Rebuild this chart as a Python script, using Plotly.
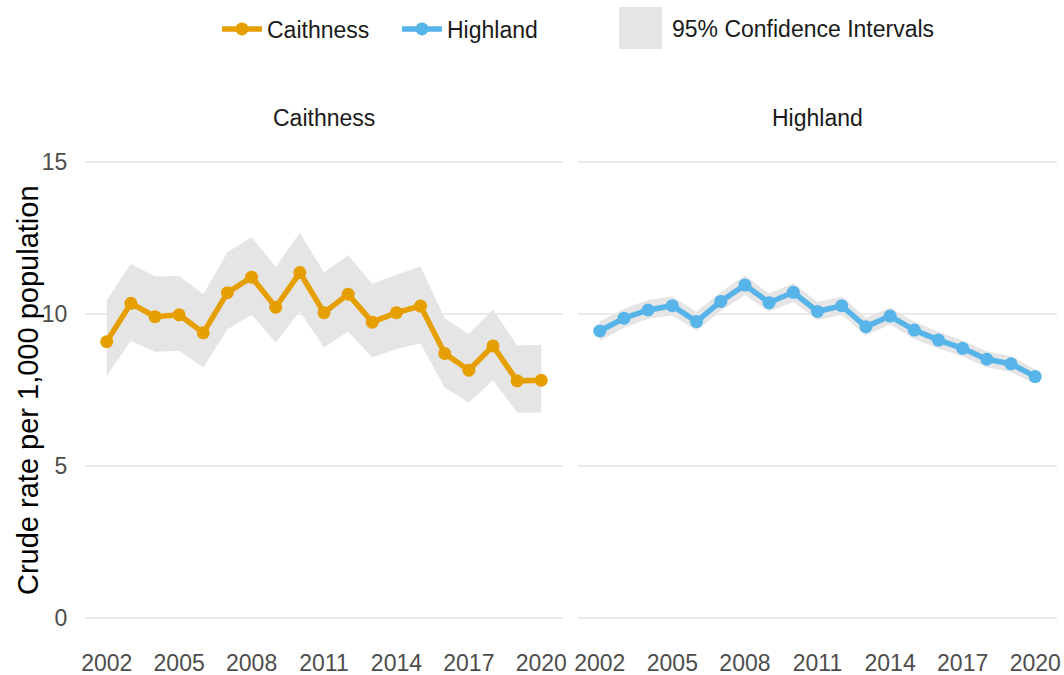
import plotly.graph_objects as go

years = list(range(2002, 2021))

caithness_rate = [9.09, 10.35, 9.91, 9.97, 9.38, 10.70, 11.21, 10.22, 11.36, 10.04,
                  10.65, 9.73, 10.04, 10.26, 8.70, 8.15, 8.95, 7.80, 7.82]
caithness_upper = [10.45, 11.65, 11.23, 11.25, 10.65, 12.03, 12.53, 11.54, 12.68, 11.36,
                   11.93, 10.99, 11.29, 11.56, 9.86, 9.34, 10.15, 8.96, 8.98]
caithness_lower = [7.96, 9.12, 8.76, 8.79, 8.24, 9.49, 9.97, 9.07, 10.08, 8.90,
                   9.42, 8.57, 8.85, 9.03, 7.58, 7.09, 7.82, 6.76, 6.76]

highland_rate = [9.44, 9.86, 10.13, 10.27, 9.75, 10.41, 10.95, 10.37, 10.71, 10.08,
                 10.27, 9.58, 9.93, 9.47, 9.14, 8.87, 8.51, 8.36, 7.94]
highland_upper = [9.75, 10.17, 10.46, 10.57, 10.07, 10.72, 11.26, 10.67, 11.01, 10.39,
                  10.57, 9.87, 10.21, 9.75, 9.41, 9.13, 8.77, 8.61, 8.17]
highland_lower = [9.11, 9.55, 9.84, 9.95, 9.45, 10.10, 10.62, 10.07, 10.39, 9.79,
                  9.97, 9.29, 9.65, 9.18, 8.86, 8.60, 8.25, 8.09, 7.70]

x_ticks = [2002, 2005, 2008, 2011, 2014, 2017, 2020]
y_ticks = [0, 5, 10, 15]
panel_names = ["Caithness", "Highland"]
ci_label = "95% Confidence Intervals"

ORANGE = "#E69F00"
BLUE = "#56B4E9"
RIBBON = "#E5E5E5"
FONT = "Liberation Sans, Arial, sans-serif"

fig = go.Figure()

series = [
    ("Caithness", caithness_rate, caithness_upper, caithness_lower, ORANGE, "x", "y"),
    ("Highland", highland_rate, highland_upper, highland_lower, BLUE, "x2", "y2"),
]

for i, (name, rate, up, lo, col, xa, ya) in enumerate(series):
    fig.add_trace(go.Scatter(
        x=years + years[::-1], y=up + lo[::-1],
        fill="toself", fillcolor=RIBBON, mode="lines",
        line=dict(width=0, color=RIBBON),
        name=ci_label, showlegend=False, hoverinfo="skip",
        xaxis=xa, yaxis=ya,
    ))

for name, rate, up, lo, col, xa, ya in series:
    fig.add_trace(go.Scatter(
        x=years, y=rate, mode="lines+markers", name=name,
        line=dict(color=col, width=5.5),
        marker=dict(color=col, size=13),
        xaxis=xa, yaxis=ya,
    ))

W, H = 1064, 675
ml, mr, mt, mb = 85, 7, 139, 34
pw = W - ml - mr
ph = H - mt - mb

def px_x(p):
    return (p - ml) / pw

def px_y(p):
    return (H - mb - p) / ph

tickfont = dict(family=FONT, size=23, color="#4D4D4D")
common_x = dict(range=[2001.1, 2020.9], tickvals=x_ticks, showgrid=False,
                zeroline=False, showline=False, ticks="outside", ticklen=1,
                tickcolor="rgba(0,0,0,0)", tickfont=tickfont)
common_y = dict(range=[-0.75, 15.75], tickvals=y_ticks, showgrid=True,
                gridcolor="#EBEBEB", gridwidth=1.5, zeroline=False, showline=False,
                ticks="outside", ticklen=12, tickcolor="rgba(0,0,0,0)", tickfont=tickfont)

fig.update_layout(
    width=W, height=H,
    margin=dict(l=ml, r=mr, t=mt, b=mb, autoexpand=False),
    paper_bgcolor="white", plot_bgcolor="white",
    font=dict(family=FONT, color="#1A1A1A"),
    xaxis=dict(domain=[0, px_x(563)], anchor="y", **common_x),
    xaxis2=dict(domain=[px_x(578), 1], anchor="y2", **common_x),
    yaxis=dict(domain=[0, 1], anchor="x", **common_y),
    yaxis2=dict(domain=[0, 1], anchor="x2", showticklabels=False,
                **{k: v for k, v in common_y.items() if k != "tickfont"}),
    legend=dict(orientation="h", xref="container", yref="container",
                x=217 / W, xanchor="left", y=1 - 29 / H, yanchor="middle",
                font=dict(family=FONT, size=23, color="#1A1A1A"),
                itemwidth=40, entrywidth=125, entrywidthmode="pixels",
                bgcolor="rgba(0,0,0,0)"),
    showlegend=True,
)

# legend key for the confidence-interval ribbon
fig.add_shape(type="rect", xref="paper", yref="paper",
              x0=px_x(619), x1=px_x(662), y0=px_y(49), y1=px_y(7),
              fillcolor=RIBBON, line=dict(width=0), layer="above")

annotations = [
    dict(text="Crude rate per 1,000 population", textangle=-90,
         x=px_x(28), y=0.5, xref="paper", yref="paper",
         xanchor="center", yanchor="middle", showarrow=False,
         font=dict(family=FONT, size=29, color="#000000")),
    dict(text=ci_label, x=px_x(670), y=px_y(29), xref="paper", yref="paper",
         xanchor="left", yanchor="middle", showarrow=False,
         font=dict(family=FONT, size=23, color="#1A1A1A")),
]
for name, cx in zip(panel_names, [324, 817]):
    annotations.append(dict(text=name, x=px_x(cx), y=px_y(118), xref="paper", yref="paper",
                            xanchor="center", yanchor="middle", showarrow=False,
                            font=dict(family=FONT, size=23, color="#1A1A1A")))
fig.update_layout(annotations=annotations)

fig.write_html("out.html", config={"displayModeBar": False},
               post_script="document.body.style.margin='0';")
